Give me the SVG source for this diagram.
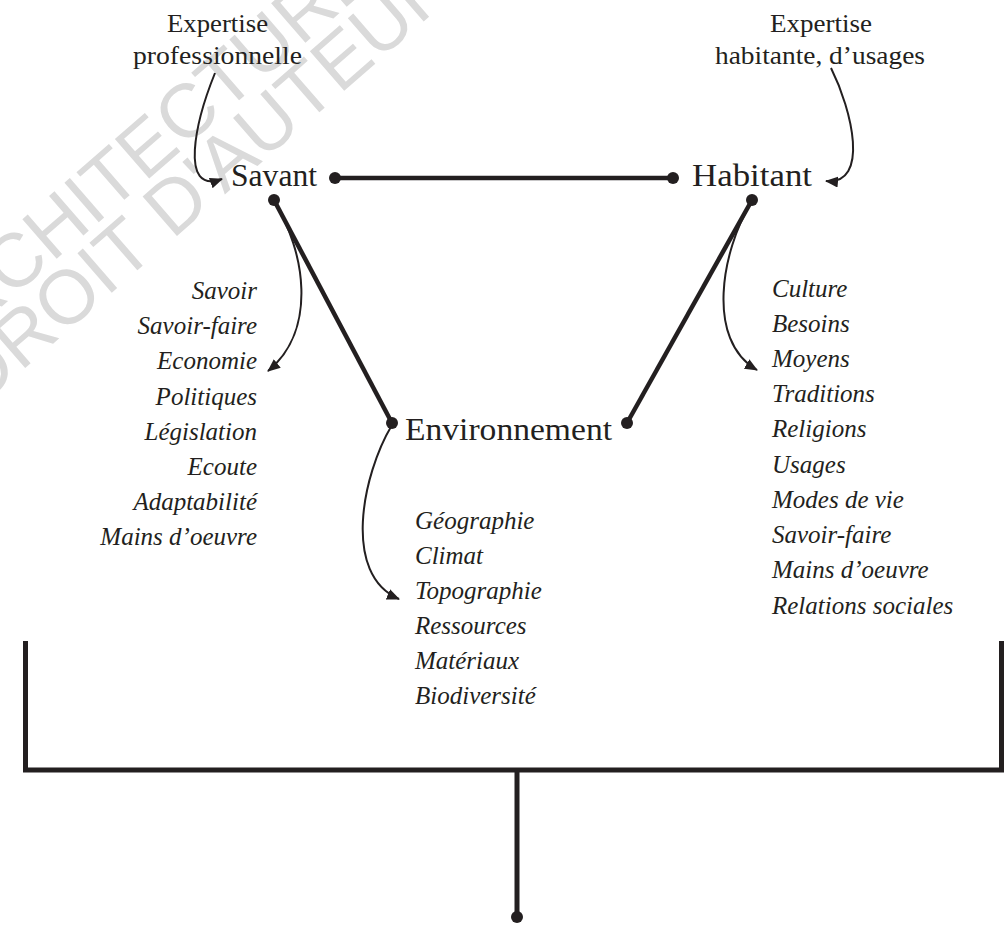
<svg xmlns="http://www.w3.org/2000/svg" width="1004" height="927" viewBox="0 0 1004 927">
  <style>
    .wm { font-family: "Liberation Sans", Arial, sans-serif; font-size: 76px; fill: #dadada; }
    .top { font-family: "Liberation Serif", "Times New Roman", serif; font-size: 26px; fill: #231f20; }
    .node { font-family: "Liberation Serif", "Times New Roman", serif; font-size: 32px; fill: #231f20; }
    .it { font-family: "Liberation Serif", "Times New Roman", serif; font-style: italic; font-size: 25px; fill: #231f20; }
    .end { text-anchor: end; }
    .thick { stroke: #231f20; stroke-width: 4.5; fill: none; }
    .thin { stroke: #231f20; stroke-width: 2; fill: none; }
    .dot { fill: #231f20; }
  </style>
  <defs>
    <marker id="arrow" markerUnits="userSpaceOnUse" markerWidth="15" markerHeight="12" refX="12" refY="5.5" orient="auto">
      <path d="M0,0 L13,5.5 L0,11 z" fill="#231f20"/>
    </marker>
  </defs>
  <rect width="1004" height="927" fill="#ffffff"/>

  <g id="watermark">
    <text class="wm" transform="translate(-69,368) rotate(-41)">ARCHITECTURE</text>
    <text class="wm" transform="translate(-21,408) rotate(-41)">DROIT D'AUTEUR</text>
  </g>

  <g id="connectors">
    <line class="thick" x1="335" y1="178" x2="673" y2="178"/>
    <line class="thick" x1="274" y1="200" x2="392" y2="423"/>
    <line class="thick" x1="752" y1="200" x2="627" y2="423"/>
    <path class="thin" d="M215 73 C196 120, 178 195, 222 179" marker-end="url(#arrow)"/>
    <path class="thin" d="M831 68 C852 110, 870 185, 826 181" marker-end="url(#arrow)"/>
    <path class="thin" d="M274 202 C305 250, 318 330, 268 371" marker-end="url(#arrow)"/>
    <path class="thin" d="M751 203 C722 250, 705 340, 757 370" marker-end="url(#arrow)"/>
    <path class="thin" d="M392 425 C362 475, 342 575, 399 599" marker-end="url(#arrow)"/>
    <path class="thick" d="M25.5 641 V770 H1001.5 V641" style="stroke-width:5"/>
    <line class="thick" x1="517" y1="770" x2="517" y2="915" style="stroke-width:5"/>
    <circle class="dot" cx="335" cy="178" r="6"/>
    <circle class="dot" cx="673" cy="178" r="6"/>
    <circle class="dot" cx="274" cy="200" r="6"/>
    <circle class="dot" cx="752" cy="200" r="6"/>
    <circle class="dot" cx="392" cy="423" r="6"/>
    <circle class="dot" cx="627" cy="423" r="6"/>
    <circle class="dot" cx="517" cy="917" r="6"/>
  </g>

  <g id="expertise-pro">
    <text class="top" x="167" y="32" textLength="101" lengthAdjust="spacingAndGlyphs">Expertise</text>
    <text class="top" x="133" y="64" textLength="169" lengthAdjust="spacingAndGlyphs">professionnelle</text>
  </g>
  <g id="expertise-hab">
    <text class="top" x="770" y="32" textLength="102" lengthAdjust="spacingAndGlyphs">Expertise</text>
    <text class="top" x="715" y="64" textLength="210" lengthAdjust="spacingAndGlyphs">habitante, d’usages</text>
  </g>

  <g id="savant">
    <text class="node" x="231" y="186" textLength="86" lengthAdjust="spacingAndGlyphs">Savant</text>
  </g>
  <g id="habitant">
    <text class="node" x="692" y="186" textLength="120" lengthAdjust="spacingAndGlyphs">Habitant</text>
  </g>
  <g id="environnement">
    <text class="node" x="405" y="440" textLength="207" lengthAdjust="spacingAndGlyphs">Environnement</text>
  </g>

  <g id="savant-list">
    <text class="it end" x="257" y="299">Savoir</text>
    <text class="it end" x="257" y="334">Savoir-faire</text>
    <text class="it end" x="257" y="369">Economie</text>
    <text class="it end" x="257" y="405">Politiques</text>
    <text class="it end" x="257" y="440">Législation</text>
    <text class="it end" x="257" y="475">Ecoute</text>
    <text class="it end" x="257" y="510">Adaptabilité</text>
    <text class="it end" x="257" y="545">Mains d’oeuvre</text>
  </g>

  <g id="environnement-list">
    <text class="it" x="415" y="529">Géographie</text>
    <text class="it" x="415" y="564">Climat</text>
    <text class="it" x="415" y="599">Topographie</text>
    <text class="it" x="415" y="634">Ressources</text>
    <text class="it" x="415" y="669">Matériaux</text>
    <text class="it" x="415" y="704">Biodiversité</text>
  </g>

  <g id="habitant-list">
    <text class="it" x="772" y="297">Culture</text>
    <text class="it" x="772" y="332">Besoins</text>
    <text class="it" x="772" y="367">Moyens</text>
    <text class="it" x="772" y="402">Traditions</text>
    <text class="it" x="772" y="437">Religions</text>
    <text class="it" x="772" y="473">Usages</text>
    <text class="it" x="772" y="508">Modes de vie</text>
    <text class="it" x="772" y="543">Savoir-faire</text>
    <text class="it" x="772" y="578">Mains d’oeuvre</text>
    <text class="it" x="772" y="614">Relations sociales</text>
  </g>
</svg>
